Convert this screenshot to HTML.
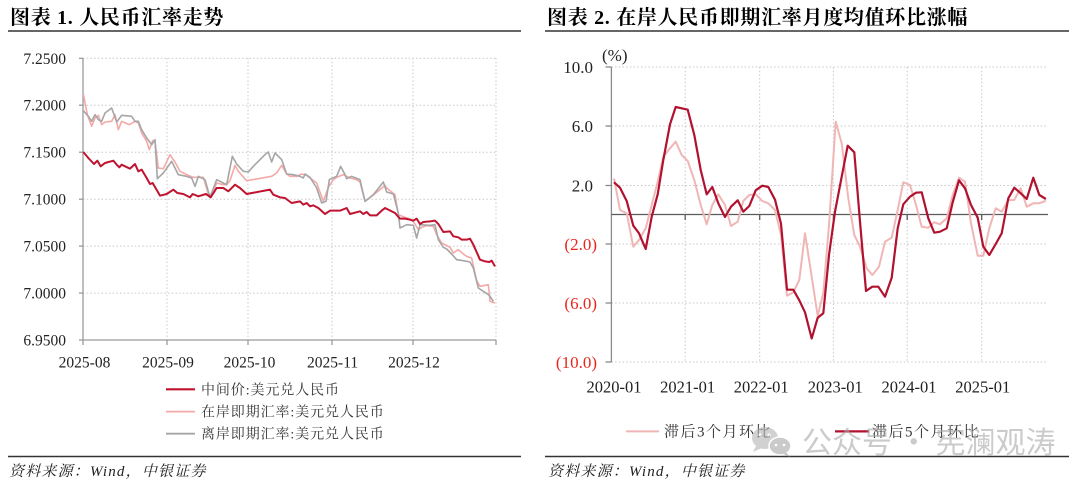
<!DOCTYPE html>
<html><head><meta charset="utf-8"><style>
html,body{margin:0;padding:0;background:#fff;}
svg{display:block;}
.t{font-family:"Liberation Serif","Noto Serif CJK SC",serif;font-weight:bold;font-size:20px;fill:#000;letter-spacing:0.7px;}
.ax{font-family:"Liberation Serif",serif;fill:#222;}
.lg{font-family:"Liberation Serif","Noto Serif CJK SC",serif;fill:#333;}
.src{font-family:"Liberation Serif","Noto Serif CJK SC",serif;font-style:italic;font-size:15px;letter-spacing:1.2px;fill:#222;}
</style></head><body>
<svg width="1080" height="483" viewBox="0 0 1080 483" xmlns="http://www.w3.org/2000/svg">
<rect width="1080" height="483" fill="#fff"/>
<!-- Titles -->
<text class="t" x="10" y="24">图表 1. 人民币汇率走势</text>
<text class="t" x="547" y="24">图表 2. 在岸人民币即期汇率月度均值环比涨幅</text>
<line x1="8" y1="31" x2="521" y2="31" stroke="#333" stroke-width="1.6"/>
<line x1="545" y1="31" x2="1069" y2="31" stroke="#333" stroke-width="1.6"/>

<!-- LEFT CHART grid -->
<g stroke="#c8c8c8" stroke-width="1" stroke-dasharray="1.5 2.2" fill="none">
<line x1="83" y1="58.3" x2="496" y2="58.3"/>
<line x1="83" y1="105.2" x2="496" y2="105.2"/>
<line x1="83" y1="152.2" x2="496" y2="152.2"/>
<line x1="83" y1="199.2" x2="496" y2="199.2"/>
<line x1="83" y1="246.1" x2="496" y2="246.1"/>
<line x1="83" y1="293.1" x2="496" y2="293.1"/>
<line x1="167" y1="58" x2="167" y2="340"/>
<line x1="248" y1="58" x2="248" y2="340"/>
<line x1="332" y1="58" x2="332" y2="340"/>
<line x1="413" y1="58" x2="413" y2="340"/>
<line x1="496" y1="58" x2="496" y2="340"/>
</g>
<g stroke="#9a9a9a" stroke-width="1.3" fill="none">
<line x1="83" y1="58" x2="83" y2="340"/>
<line x1="83" y1="340" x2="496" y2="340"/>
<line x1="79" y1="58.3" x2="83" y2="58.3"/>
<line x1="79" y1="105.2" x2="83" y2="105.2"/>
<line x1="79" y1="152.2" x2="83" y2="152.2"/>
<line x1="79" y1="199.2" x2="83" y2="199.2"/>
<line x1="79" y1="246.1" x2="83" y2="246.1"/>
<line x1="79" y1="293.1" x2="83" y2="293.1"/>
<line x1="79" y1="340" x2="83" y2="340"/>
<line x1="83" y1="340" x2="83" y2="345"/>
<line x1="167" y1="340" x2="167" y2="345"/>
<line x1="248" y1="340" x2="248" y2="345"/>
<line x1="332" y1="340" x2="332" y2="345"/>
<line x1="413" y1="340" x2="413" y2="345"/>
<line x1="496" y1="340" x2="496" y2="345"/>
</g>
<g class="ax" font-size="15.5" text-anchor="end">
<text x="66" y="63.8">7.2500</text>
<text x="66" y="110.7">7.2000</text>
<text x="66" y="157.7">7.1500</text>
<text x="66" y="204.7">7.1000</text>
<text x="66" y="251.6">7.0500</text>
<text x="66" y="298.6">7.0000</text>
<text x="66" y="345.5">6.9500</text>
</g>
<g class="ax" font-size="15.5" text-anchor="middle">
<text x="84.5" y="367.5">2025-08</text>
<text x="168" y="367.5">2025-09</text>
<text x="249.5" y="367.5">2025-10</text>
<text x="332.6" y="367.5">2025-11</text>
<text x="414" y="367.5">2025-12</text>
</g>

<!-- LEFT CHART series -->
<g transform="translate(80,88) scale(0.33333)" fill="none" stroke-linejoin="round">
<polyline vector-effect="non-scaling-stroke" stroke="#f4a9a9" stroke-width="1.6" points="10,18 22,80 35,115 45,90 55,82 65,110 75,102 95,100 105,80 115,125 125,100 148,110 165,100 175,105 185,135 200,160 208,185 218,158 225,160 235,240 250,242 270,200 285,222 300,250 325,262 340,268 370,268 385,318 395,320 410,285 430,290 440,290 450,278 465,232 475,250 500,278 575,265 590,255 605,232 620,258 630,265 650,265 665,258 680,262 690,270 710,285 730,340 745,298 760,275 770,268 790,260 810,270 830,275 840,282 855,340 875,325 900,305 915,292 920,300 935,312 945,320 955,380 975,388 995,395 1005,408 1015,425 1025,418 1040,413 1060,415 1070,440 1085,465 1110,478 1120,495 1135,485 1150,498 1160,505 1175,510 1190,578 1200,595 1225,590 1230,640 1245,645"/>
<polyline vector-effect="non-scaling-stroke" stroke="#a6a6a6" stroke-width="1.6" points="10,68 25,85 35,100 45,80 55,95 65,100 75,75 95,60 110,102 125,82 155,85 165,100 175,100 185,125 200,150 215,170 225,155 232,272 250,255 275,220 295,260 320,265 335,270 345,295 355,265 375,275 390,328 410,275 430,285 440,290 457,205 470,228 490,250 505,252 520,235 555,200 565,192 575,222 585,195 605,215 620,258 640,260 660,265 670,270 675,258 690,268 710,300 725,345 738,340 748,275 770,265 782,235 795,260 800,272 815,265 840,275 855,340 880,320 900,295 910,282 920,312 940,318 955,375 960,420 980,410 1000,412 1010,450 1020,410 1050,412 1065,410 1075,455 1090,478 1100,483 1115,498 1130,515 1150,518 1170,522 1180,540 1195,600 1210,610 1228,622 1240,640"/>
<polyline vector-effect="non-scaling-stroke" stroke="#c0132f" stroke-width="2" points="10,192 25,210 42,228 52,218 62,235 75,225 100,218 110,230 118,238 125,230 150,242 165,228 175,250 185,245 200,270 210,288 218,285 240,323 260,318 280,305 292,315 310,318 330,328 338,318 355,325 378,318 392,328 410,300 430,300 445,310 465,290 480,300 500,318 570,305 580,320 600,328 615,330 635,345 660,340 670,350 680,345 690,355 700,352 715,360 735,378 750,368 780,368 800,360 810,378 840,370 850,378 860,372 870,382 890,382 905,368 915,360 945,375 960,392 975,392 990,395 1000,398 1010,392 1020,408 1030,402 1050,400 1065,398 1075,408 1090,432 1110,430 1120,445 1135,448 1145,455 1160,455 1170,452 1180,470 1200,515 1215,520 1228,522 1235,518 1245,535"/>
</g>

<!-- LEFT legend -->
<line x1="166" y1="389.3" x2="195" y2="389.3" stroke="#c0132f" stroke-width="2.2"/>
<line x1="166" y1="411.6" x2="195" y2="411.6" stroke="#f4a9a9" stroke-width="1.8"/>
<line x1="166" y1="433.7" x2="195" y2="433.7" stroke="#a6a6a6" stroke-width="1.8"/>
<g class="lg" font-size="14" letter-spacing="0.9">
<text x="201" y="394.3">中间价:美元兑人民币</text>
<text x="201" y="416.6">在岸即期汇率:美元兑人民币</text>
<text x="201" y="438.7">离岸即期汇率:美元兑人民币</text>
</g>
<line x1="8" y1="456.5" x2="521" y2="456.5" stroke="#333" stroke-width="1.5"/>
<text class="src" x="9" y="476">资料来源：Wind，中银证券</text>

<!-- RIGHT CHART grid -->
<g stroke="#c8c8c8" stroke-width="1" stroke-dasharray="1.5 2.2" fill="none">
<line x1="611.4" y1="67" x2="1048" y2="67"/>
<line x1="611.4" y1="126" x2="1048" y2="126"/>
<line x1="611.4" y1="185.5" x2="1048" y2="185.5"/>
<line x1="611.4" y1="244" x2="1048" y2="244"/>
<line x1="611.4" y1="303" x2="1048" y2="303"/>
<line x1="611.4" y1="362" x2="1048" y2="362"/>
<line x1="685.2" y1="67" x2="685.2" y2="362"/>
<line x1="759.7" y1="67" x2="759.7" y2="362"/>
<line x1="833.4" y1="67" x2="833.4" y2="362"/>
<line x1="907.2" y1="67" x2="907.2" y2="362"/>
<line x1="981.7" y1="67" x2="981.7" y2="362"/>
</g>
<g stroke="#8a8a8a" stroke-width="1.3" fill="none">
<line x1="611.4" y1="67" x2="611.4" y2="362"/>
<line x1="605.5" y1="67" x2="611.4" y2="67"/>
<line x1="605.5" y1="126" x2="611.4" y2="126"/>
<line x1="605.5" y1="185.5" x2="611.4" y2="185.5"/>
<line x1="605.5" y1="244" x2="611.4" y2="244"/>
<line x1="605.5" y1="303" x2="611.4" y2="303"/>
<line x1="605.5" y1="362" x2="611.4" y2="362"/>
</g>
<g stroke="#5a5a5a" stroke-width="1.3" fill="none">
<line x1="611.4" y1="214.5" x2="1048" y2="214.5"/>
<line x1="685.2" y1="214.5" x2="685.2" y2="220"/>
<line x1="759.7" y1="214.5" x2="759.7" y2="220"/>
<line x1="833.4" y1="214.5" x2="833.4" y2="220"/>
<line x1="907.2" y1="214.5" x2="907.2" y2="220"/>
<line x1="981.7" y1="214.5" x2="981.7" y2="220"/>
</g>
<text class="ax" x="602" y="61" font-size="17">(%)</text>
<g class="ax" font-size="17" text-anchor="end">
<text x="593" y="73">10.0</text>
<text x="593" y="132">6.0</text>
<text x="593" y="191.5">2.0</text>
<text x="597" y="250" fill="#e8261e">(2.0)</text>
<text x="597" y="309" fill="#e8261e">(6.0)</text>
<text x="597" y="368" fill="#e8261e">(10.0)</text>
</g>
<g class="ax" font-size="16.5" text-anchor="middle">
<text x="614" y="392.5">2020-01</text>
<text x="687.6" y="392.5">2021-01</text>
<text x="761.2" y="392.5">2022-01</text>
<text x="835.3" y="392.5">2023-01</text>
<text x="909" y="392.5">2024-01</text>
<text x="982.8" y="392.5">2025-01</text>
</g>

<!-- RIGHT series -->
<g fill="none" stroke-linejoin="round">
<polyline stroke="#f0b6b6" stroke-width="2" points="614,178.3 620,210 626.7,213.3 633.3,246.7 639,240 645.7,228.3 651.7,205 657.7,181.7 663.3,156.7 670,148.3 675.7,141.7 681.7,155 687.7,161 694.3,180 700.7,205 706.7,224.3 712.3,205 718.3,194.3 725,205 731,226 737.7,221.7 743.3,201 749.3,195 755.7,194.3 762.3,201 768.3,203.3 775,210 781,235 787,295.7 793.3,292.3 799.3,280 805,233.3 811.7,276.7 817.7,316 823.3,293 829,225 835.7,121.7 841.7,143.3 848.3,198.3 854.3,235 860,246.7 866.7,268.3 872.3,275 879,266.7 885,241.7 891.7,237.7 897.7,210 903.3,182.3 910,185 916,205 921.7,226.7 928.3,227.7 934.3,222.3 940,224.3 946.7,218.3 952.7,195 959,177.7 965,181.7 971,223.3 977.7,255.7 983.3,255.7 989.3,228.3 995.7,208.3 1001.7,211.7 1008.3,200 1014.3,200 1020.7,188.3 1026.7,206.7 1033.3,203.3 1039.3,203.3 1045.9,200.7"/>
<polyline stroke="#b0122f" stroke-width="2.2" points="614,182.3 620,187.7 626.7,201 633.3,225.7 639,233.3 645.7,249 651.7,216.7 657.7,194.3 663.3,160 670,124.3 675.7,107 681.7,108.3 687.7,109.7 694.3,135 700.7,170 706.7,194.3 712.3,187 718.3,203.3 725,217 731,206.7 737.7,200.3 743.3,211.7 749.3,206 755.7,190.3 762.3,185.7 768.3,187 775,199.7 781,223.7 787,289.7 793.3,289.7 799.3,300.3 805,312.3 811.7,338.5 817.7,317.7 823.3,313.3 829,255 835,211.7 841.7,176.7 847.7,145.7 854.3,152.3 860,221.7 866,291 872.3,286.7 878.3,286.7 885,296.7 891.7,277.7 897.7,228.3 903.3,204.3 910,196.7 916,192.7 921.7,192.3 928.3,218.3 934.3,232.7 940,231.7 946.7,228.3 952.7,202.3 959,180.3 965,188.3 971,205 977.7,217.7 983.3,246.7 989.3,255 995.7,244 1001.7,233.3 1008.3,198.3 1014.3,187.7 1020.7,193.3 1026.7,199 1033.3,177.7 1039.3,195 1045.9,199"/>
</g>

<!-- RIGHT legend -->
<line x1="626" y1="431.4" x2="659" y2="431.4" stroke="#f0b6b6" stroke-width="2"/>
<text class="lg" x="664" y="436.6" font-size="15" letter-spacing="1.5">滞后3个月环比</text>
<line x1="835" y1="431.4" x2="869" y2="431.4" stroke="#b0122f" stroke-width="2.2"/>
<text class="lg" x="872" y="436.6" font-size="15" letter-spacing="1.5">滞后5个月环比</text>
<line x1="545" y1="456.5" x2="1069" y2="456.5" stroke="#333" stroke-width="1.5"/>
<text class="src" x="548" y="476">资料来源：Wind，中银证券</text>

<!-- Watermark -->
<g opacity="0.6">
<ellipse cx="765" cy="438" rx="13" ry="11" fill="#b4b4b4"/>
<path d="M756 446 L753 452 L762 448 Z" fill="#b4b4b4"/>
<ellipse cx="780" cy="446" rx="11" ry="9" fill="#a8a8a8" stroke="#fff" stroke-width="1.5"/>
<path d="M786 452 L790 457 L783 454 Z" fill="#a8a8a8"/>
<circle cx="760" cy="435" r="1.6" fill="#fff"/>
<circle cx="769" cy="435" r="1.6" fill="#fff"/>
<circle cx="776" cy="445" r="1.3" fill="#fff"/>
<circle cx="784" cy="445" r="1.3" fill="#fff"/>
<text x="802" y="453" font-family="'Noto Sans CJK SC','WenQuanYi Zen Hei',sans-serif" font-size="30" fill="#a9a9a9">公众号 · 宪澜观涛</text>
</g>
</svg>
</body></html>
